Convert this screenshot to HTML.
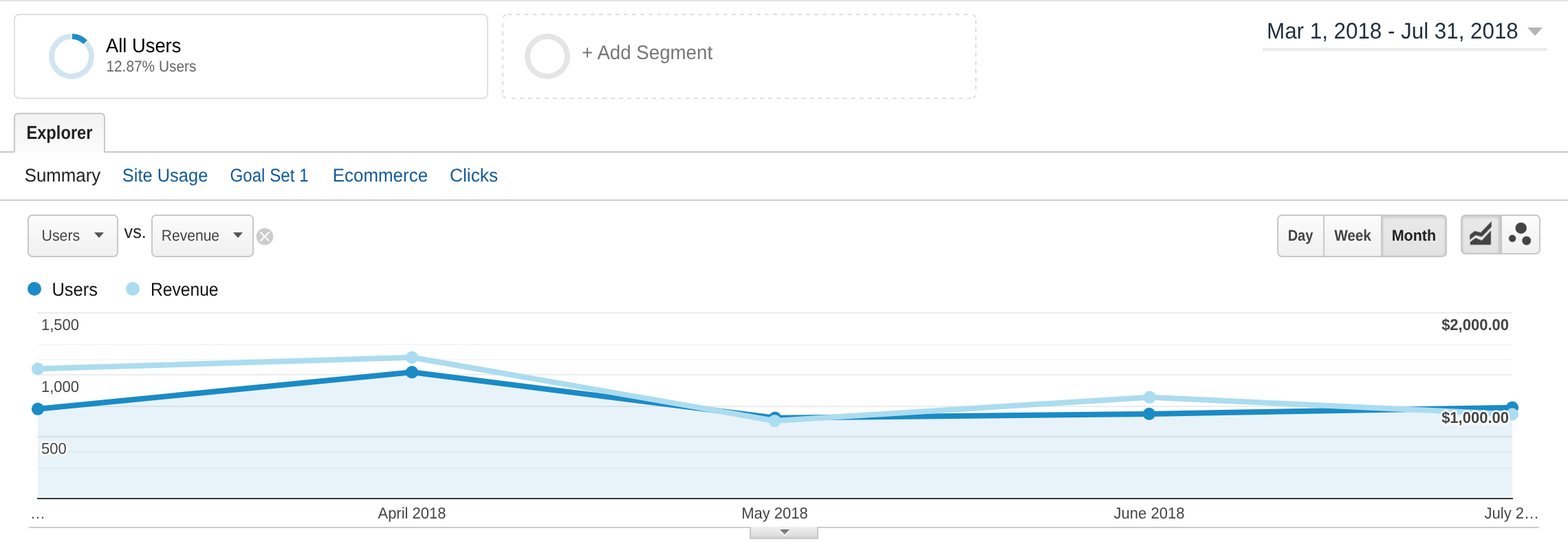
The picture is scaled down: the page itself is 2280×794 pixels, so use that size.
<!DOCTYPE html>
<html><head><meta charset="utf-8"><title>Explorer</title>
<style>
html,body{margin:0;padding:0;background:#fff;}
body{width:2280px;height:794px;overflow:hidden;position:relative;}
svg{position:absolute;left:0;top:0;display:block;font-family:"Liberation Sans", Arial, sans-serif;text-rendering:geometricPrecision;}
.btn{position:absolute;box-sizing:border-box;border:2px solid #c8c8c8;background:linear-gradient(#fcfcfc,#f0f0f0);}
.sel{background:linear-gradient(#e9e9e9,#e3e3e3);box-shadow:inset 0 2px 4px rgba(0,0,0,.13),inset 0 0 3px rgba(0,0,0,.08);}
</style></head><body>
<div class="btn" style="left:40px;top:312px;width:132px;height:62px;border-radius:7px"></div>
<div class="btn" style="left:220px;top:312px;width:149px;height:62px;border-radius:7px"></div>
<div class="btn" style="left:1857px;top:312px;width:69px;height:62px;border-radius:7px 0 0 7px"></div>
<div class="btn" style="left:1924px;top:312px;width:86px;height:62px;"></div>
<div class="btn sel" style="left:2008px;top:312px;width:96px;height:62px;border-radius:0 7px 7px 0"></div>
<div class="btn sel" style="left:2124px;top:312px;width:58px;height:58px;border-radius:7px 0 0 7px"></div>
<div class="btn" style="left:2182px;top:312px;width:58px;height:58px;border-radius:0 7px 7px 0"></div>
<svg width="2280" height="794" viewBox="0 0 2280 794">
<rect x="0" y="0" width="2280" height="2" fill="#e2e2e2"/>
<rect x="21" y="21" width="688" height="122" rx="7" ry="7" fill="#fff" stroke="#e0e0e0" stroke-width="2"/>
<path d="M125.62,62.67 A29,29 0 1 1 103.09,53.01" fill="none" stroke="#cfe6f2" stroke-width="8"/>
<path d="M104.91,53.01 A29,29 0 0 1 124.29,61.28" fill="none" stroke="#1b8ec6" stroke-width="8"/>
<text x="154" y="76" font-size="28.7" fill="#000" font-weight="normal" text-anchor="start"  textLength="109.4" lengthAdjust="spacingAndGlyphs">All Users</text>
<text x="154.4" y="104" font-size="22.5" fill="#666" font-weight="normal" text-anchor="start"  textLength="131.1" lengthAdjust="spacingAndGlyphs">12.87% Users</text>
<path d="M738.4,21 L1412,21" stroke="#dedede" stroke-width="2" stroke-dasharray="6 6.05" fill="none"/>
<path d="M743.5,143 L1412,143" stroke="#dedede" stroke-width="2" stroke-dasharray="6 6.05" fill="none"/>
<path d="M731,33.7 L731,136" stroke="#dedede" stroke-width="2" stroke-dasharray="6 6" fill="none"/>
<path d="M1419,28.9 L1419,131" stroke="#dedede" stroke-width="2" stroke-dasharray="6 5.9" fill="none"/>
<path d="M731.51,25.38 A7,7 0 0 1 735.38,21.51" stroke="#dedede" stroke-width="2" fill="none"/>
<path d="M1414.62,21.51 A7,7 0 0 1 1418.49,25.38" stroke="#dedede" stroke-width="2" fill="none"/>
<path d="M1418.49,138.62 A7,7 0 0 1 1414.62,142.49" stroke="#dedede" stroke-width="2" fill="none"/>
<path d="M735.38,142.49 A7,7 0 0 1 731.51,138.62" stroke="#dedede" stroke-width="2" fill="none"/>
<circle cx="796" cy="82" r="29" fill="none" stroke="#e5e5e5" stroke-width="8"/>
<text x="846.1" y="86" font-size="28.8" fill="#777" font-weight="normal" text-anchor="start"  textLength="190" lengthAdjust="spacingAndGlyphs">+ Add Segment</text>
<text x="1842.1" y="56" font-size="32.8" fill="#1f2e3d" font-weight="normal" text-anchor="start"  textLength="365.7" lengthAdjust="spacingAndGlyphs">Mar 1, 2018 - Jul 31, 2018</text>
<polygon points="2221,40 2243,40 2232,52" fill="#b5b5b5"/>
<rect x="1836" y="70" width="414" height="4" fill="#ebebeb"/>
<rect x="0" y="220" width="2280" height="2" fill="#c8c8c8"/>
<defs><filter id="soft" x="-20%" y="-20%" width="140%" height="140%"><feGaussianBlur stdDeviation="0.9"/></filter><filter id="soft2" x="-20%" y="-20%" width="140%" height="140%"><feGaussianBlur stdDeviation="0.75"/></filter><linearGradient id="gtab" x1="0" y1="0" x2="0" y2="1"><stop offset="0" stop-color="#f2f2f2"/><stop offset="1" stop-color="#fcfcfc"/></linearGradient><linearGradient id="gbtn" x1="0" y1="0" x2="0" y2="1"><stop offset="0" stop-color="#fbfbfb"/><stop offset="1" stop-color="#efefef"/></linearGradient><linearGradient id="gsel" x1="0" y1="0" x2="0" y2="1"><stop offset="0" stop-color="#e2e2e2"/><stop offset="1" stop-color="#eaeaea"/></linearGradient><linearGradient id="gbot" x1="0" y1="0" x2="0" y2="1"><stop offset="0" stop-color="#f0f0f0"/><stop offset="0.75" stop-color="#e0e0e0"/><stop offset="1" stop-color="#d2d2d2"/></linearGradient><linearGradient id="gtri" x1="0" y1="0" x2="0" y2="1"><stop offset="0" stop-color="#6c6c6c"/><stop offset="1" stop-color="#9c9c9c"/></linearGradient></defs>
<path d="M21,222 L21,171 Q21,165 27,165 L146,165 Q152,165 152,171 L152,222 Z" fill="url(#gtab)" stroke="none"/>
<path d="M21,221 L21,171 Q21,165 27,165 L146,165 Q152,165 152,171 L152,221" fill="none" stroke="#c8c8c8" stroke-width="2"/>
<text x="38.4" y="202" font-size="27.2" fill="#222" font-weight="bold" text-anchor="start"  textLength="96.1" lengthAdjust="spacingAndGlyphs">Explorer</text>
<text x="35.7" y="264" font-size="26.8" fill="#222" font-weight="normal" text-anchor="start"  textLength="110.5" lengthAdjust="spacingAndGlyphs">Summary</text>
<text x="177.8" y="264" font-size="26.8" fill="#125a9a" font-weight="normal" text-anchor="start"  textLength="124.5" lengthAdjust="spacingAndGlyphs">Site Usage</text>
<text x="334.4" y="264" font-size="26.8" fill="#125a9a" font-weight="normal" text-anchor="start"  textLength="114.2" lengthAdjust="spacingAndGlyphs">Goal Set 1</text>
<text x="483.7" y="264" font-size="26.8" fill="#125a9a" font-weight="normal" text-anchor="start"  textLength="138.4" lengthAdjust="spacingAndGlyphs">Ecommerce</text>
<text x="654" y="264" font-size="26.8" fill="#125a9a" font-weight="normal" text-anchor="start"  textLength="70.1" lengthAdjust="spacingAndGlyphs">Clicks</text>
<rect x="0" y="290" width="2280" height="2" fill="#cccccc"/>
<text x="60.5" y="350" font-size="22.6" fill="#444" font-weight="normal" text-anchor="start"  textLength="55.7" lengthAdjust="spacingAndGlyphs">Users</text>
<polygon points="137,338 151,338 144,346" fill="#555"/>
<text x="180.6" y="346" font-size="26.5" fill="#222" font-weight="normal" text-anchor="start"  textLength="32.2" lengthAdjust="spacingAndGlyphs">vs.</text>
<text x="234.7" y="350" font-size="22.6" fill="#444" font-weight="normal" text-anchor="start"  textLength="84.4" lengthAdjust="spacingAndGlyphs">Revenue</text>
<polygon points="339,338 353,338 346,346" fill="#555"/>
<circle cx="385" cy="344" r="12" fill="#cccccc" stroke="#cccccc" stroke-opacity="0.4" stroke-width="1.6"/>
<path d="M379,338 L391,350 M391,338 L379,350" stroke="#fafafa" stroke-width="2.3" stroke-linecap="round"/>
<circle cx="50" cy="420" r="10" fill="#1a8bc5"/>
<text x="75.4" y="430" font-size="26.8" fill="#111" font-weight="normal" text-anchor="start"  textLength="66.7" lengthAdjust="spacingAndGlyphs">Users</text>
<circle cx="193" cy="420" r="10" fill="#a9dcf0"/>
<text x="218.9" y="430" font-size="26.8" fill="#111" font-weight="normal" text-anchor="start"  textLength="98.7" lengthAdjust="spacingAndGlyphs">Revenue</text>
<text x="1872.7" y="350" font-size="22.7" fill="#444" font-weight="bold" text-anchor="start"  textLength="36.6" lengthAdjust="spacingAndGlyphs">Day</text>
<text x="1940.2" y="350" font-size="22.7" fill="#444" font-weight="bold" text-anchor="start"  textLength="53.7" lengthAdjust="spacingAndGlyphs">Week</text>
<text x="2023.7" y="350" font-size="22.7" fill="#222" font-weight="bold" text-anchor="start"  textLength="64.4" lengthAdjust="spacingAndGlyphs">Month</text>
<clipPath id="icclip"><rect x="2137.3" y="318" width="31.4" height="40"/></clipPath>
<polyline points="2132,349.4 2145,338.9 2153.9,341.3 2172,322.6" fill="none" stroke="#444" stroke-opacity="0.3" stroke-width="6.8" stroke-linejoin="round" clip-path="url(#icclip)"/>
<polyline points="2132,349.4 2145,338.9 2153.9,341.3 2172,322.6" fill="none" stroke="#444" stroke-width="5.2" stroke-linejoin="round" clip-path="url(#icclip)"/>
<path d="M2138,352.1 L2145.8,346.3 L2154.7,349.9 L2167.7,335.7 L2167.7,355.7 L2138,355.7 Z" fill="#444" stroke="#444" stroke-opacity="0.3" stroke-width="1.4" stroke-linejoin="round"/>
<circle cx="2211.7" cy="331.7" r="8" fill="#444" stroke="#444" stroke-opacity="0.3" stroke-width="1.4"/>
<circle cx="2199.1" cy="346.8" r="5" fill="#444" stroke="#444" stroke-opacity="0.3" stroke-width="1.4"/>
<circle cx="2219.7" cy="350" r="6.2" fill="#444" stroke="#444" stroke-opacity="0.3" stroke-width="1.4"/>
<rect x="54" y="454" width="2145" height="2" fill="#ececec"/>
<rect x="54" y="544" width="2145" height="2" fill="#ececec"/>
<rect x="54" y="590" width="2145" height="2" fill="#ececec"/>
<rect x="54" y="634" width="2145" height="2" fill="#ececec"/>
<rect x="54" y="500" width="2145" height="2" fill="#f6f6f6"/>
<rect x="54" y="522" width="2145" height="2" fill="#f6f6f6"/>
<rect x="54" y="656" width="2145" height="2" fill="#f6f6f6"/>
<rect x="54" y="680" width="2145" height="2" fill="#f6f6f6"/>
<polygon points="55,723 55,594.7 599,541.2 1127,607.7 1671,601.9 2199,592.7 2199,723" fill="rgba(26,139,197,0.1)"/>
<rect x="54" y="724" width="2146" height="2" fill="#333"/>
<polyline points="55,594.7 599,541.2 1127,607.7 1671,601.9 2199,592.7" fill="none" stroke="#1a8bc5" stroke-width="8" stroke-linejoin="round"/>
<circle cx="55" cy="594.7" r="9.1" fill="#1a8bc5"/>
<circle cx="599" cy="541.2" r="9.1" fill="#1a8bc5"/>
<circle cx="1127" cy="607.7" r="9.1" fill="#1a8bc5"/>
<circle cx="1671" cy="601.9" r="9.1" fill="#1a8bc5"/>
<circle cx="2199" cy="592.7" r="9.1" fill="#1a8bc5"/>
<polyline points="55,536.3 599,519.7 1126.5,612 1671.6,577.7 2199,602.4" fill="none" stroke="#abdcf0" stroke-width="8" stroke-linejoin="round"/>
<circle cx="55" cy="536.3" r="9.1" fill="#abdcf0"/>
<circle cx="599" cy="519.7" r="9.1" fill="#abdcf0"/>
<circle cx="1126.5" cy="612" r="9.1" fill="#abdcf0"/>
<circle cx="1671.6" cy="577.7" r="9.1" fill="#abdcf0"/>
<circle cx="2199" cy="602.4" r="9.1" fill="#abdcf0"/>
<text x="60" y="480" font-size="23" fill="#444" font-weight="normal" text-anchor="start"  textLength="55.06" lengthAdjust="spacingAndGlyphs">1,500</text>
<text x="60" y="570" font-size="23" fill="#444" font-weight="normal" text-anchor="start" stroke="#fff" stroke-width="5" paint-order="stroke" stroke-linejoin="round" textLength="55.06" lengthAdjust="spacingAndGlyphs">1,000</text>
<text x="60" y="660" font-size="23" fill="#444" font-weight="normal" text-anchor="start" stroke="#fff" stroke-width="5" paint-order="stroke" stroke-linejoin="round" textLength="36.72" lengthAdjust="spacingAndGlyphs">500</text>
<text x="2194" y="480" font-size="23" fill="#444" font-weight="bold" text-anchor="end"  textLength="97.875" lengthAdjust="spacingAndGlyphs">$2,000.00</text>
<text x="2194" y="615" font-size="23" fill="#444" font-weight="bold" text-anchor="end" stroke="#fff" stroke-width="5" paint-order="stroke" stroke-linejoin="round" textLength="97.875" lengthAdjust="spacingAndGlyphs">$1,000.00</text>
<text x="44" y="754" font-size="22" fill="#444" font-weight="normal" text-anchor="start" >…</text>
<text x="599" y="754" font-size="23" fill="#444" font-weight="normal" text-anchor="middle"  textLength="99.08" lengthAdjust="spacingAndGlyphs">April 2018</text>
<text x="1126.5" y="754" font-size="23" fill="#444" font-weight="normal" text-anchor="middle"  textLength="96.63" lengthAdjust="spacingAndGlyphs">May 2018</text>
<text x="1671" y="754" font-size="23" fill="#444" font-weight="normal" text-anchor="middle"  textLength="102.77" lengthAdjust="spacingAndGlyphs">June 2018</text>
<text x="2238" y="754" font-size="23" fill="#444" font-weight="normal" text-anchor="end"  textLength="79.48" lengthAdjust="spacingAndGlyphs">July 2…</text>
<rect x="42" y="766" width="2196" height="2" fill="#cccccc"/>
<path d="M1090,766 L1190,766 L1190,782 Q1190,784 1188,784 L1092,784 Q1090,784 1090,782 Z" fill="#c8c8c8"/>
<rect x="1092" y="766" width="96" height="16" fill="url(#gbot)"/>
<polygon points="1133,771.5 1149,771.5 1141,780" fill="#fff" opacity="0.85"/>
<polygon points="1134,770 1148,770 1141,777.8" fill="url(#gtri)"/>
</svg>
</body></html>
